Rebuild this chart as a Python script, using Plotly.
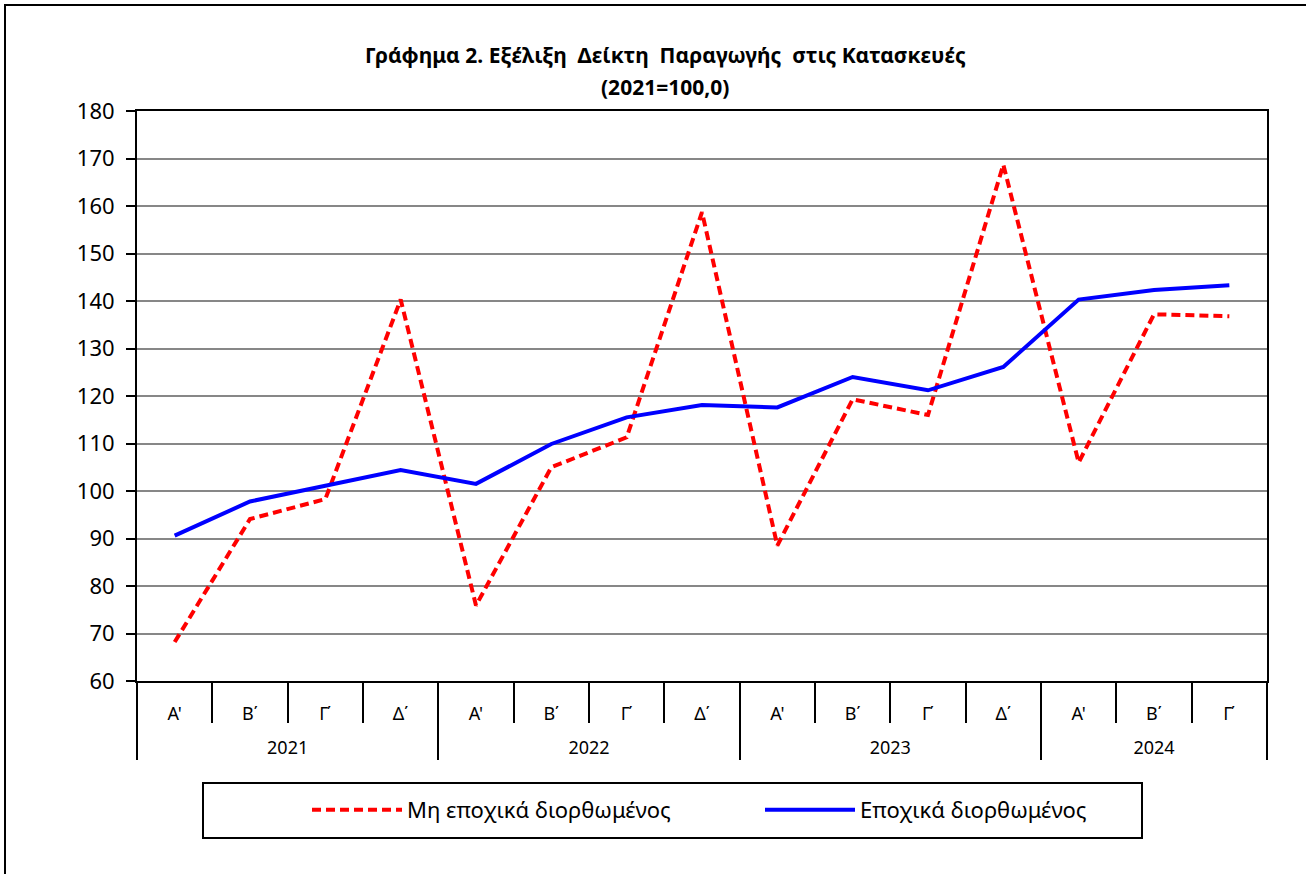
import plotly.graph_objects as go

# ---- data ----
years = ["2021"] * 4 + ["2022"] * 4 + ["2023"] * 4 + ["2024"] * 3
quarters = ["Α'", "Β΄", "Γ΄", "Δ΄"] * 3 + ["Α'", "Β΄", "Γ΄"]
non_sa = [68.2, 94.1, 98.3, 140.3, 75.9, 105.0, 111.3, 158.7,
          88.5, 119.3, 116.0, 168.7, 106.0, 137.2, 136.8]
sa = [90.6, 97.8, 101.1, 104.4, 101.5, 109.9, 115.5, 118.1,
      117.6, 124.0, 121.2, 126.1, 140.3, 142.3, 143.3]
name_non_sa = "Μη εποχικά διορθωμένος"
name_sa = "Εποχικά διορθωμένος"
title_l1 = "Γράφημα 2. Εξέλιξη  Δείκτη  Παραγωγής  στις Κατασκευές"
title_l2 = "(2021=100,0)"

W, H = 1306, 874
L, R, T, B = 137, 1267, 111, 681
FONT = "Noto Sans"


def px(x):
    return (x - L) / (R - L)


def py(y):
    return (B - y) / (B - T)


# year labels get a leading blank line so they sit on a second row below the quarters
year_labels = ["<br>" + y for y in years]
xcats = [year_labels, quarters]

fig = go.Figure()
fig.add_trace(go.Scatter(x=xcats, y=non_sa, name=name_non_sa, mode="lines",
                         line=dict(color="#FF0000", width=4, dash="9px,5px")))
fig.add_trace(go.Scatter(x=xcats, y=sa, name=name_sa, mode="lines",
                         line=dict(color="#0000FF", width=4)))

fig.update_layout(
    width=W, height=H,
    margin=dict(l=L, r=W - R, t=T, b=H - B, pad=0),
    paper_bgcolor="white", plot_bgcolor="white",
    font=dict(family=FONT, color="black"),
    showlegend=True,
    legend=dict(orientation="h", x=px(307), y=py(810), xanchor="left", yanchor="middle",
                font=dict(size=22, family=FONT), entrywidth=348, bgcolor="rgba(0,0,0,0)",
                itemwidth=90),
    annotations=[
        dict(text="<b>" + title_l1 + "</b>", x=px(665), y=py(55), xref="paper", yref="paper",
             xanchor="center", yanchor="middle",
             showarrow=False, font=dict(size=21, family=FONT)),
        dict(text="<b>" + title_l2 + "</b>", x=px(665), y=py(87), xref="paper", yref="paper",
             xanchor="center", yanchor="middle",
             showarrow=False, font=dict(size=21, family=FONT)),
    ],
    shapes=[
        dict(type="rect", xref="paper", yref="paper", x0=px(5), y0=py(5), x1=px(1400), y1=py(1000),
             line=dict(color="black", width=2), layer="below"),
        dict(type="rect", xref="paper", yref="paper", x0=px(203), y0=py(783), x1=px(1142), y1=py(838),
             line=dict(color="black", width=2), layer="below"),
    ],
)

fig.update_yaxes(range=[60, 180], dtick=10, showgrid=True, gridcolor="#878787", gridwidth=2,
                 showline=True, linecolor="black", linewidth=2, mirror=True,
                 ticks="outside", ticklen=9, tickwidth=2, tickcolor="black",
                 ticklabelstandoff=7,
                 tickfont=dict(size=22, family=FONT), zeroline=False)
fig.update_xaxes(type="multicategory", range=[-0.5, 14.5], showgrid=False, showline=True,
                 linecolor="black", linewidth=2,
                 mirror=True, ticks="outside", ticklen=40, tickwidth=2, tickcolor="black",
                 tickson="boundaries", dividercolor="black", dividerwidth=2,
                 ticklabelstandoff=15,
                 tickfont=dict(size=18, family=FONT))

fig.write_html("out.html", config={"displayModeBar": False},
               post_script="document.body.style.margin='0';")
